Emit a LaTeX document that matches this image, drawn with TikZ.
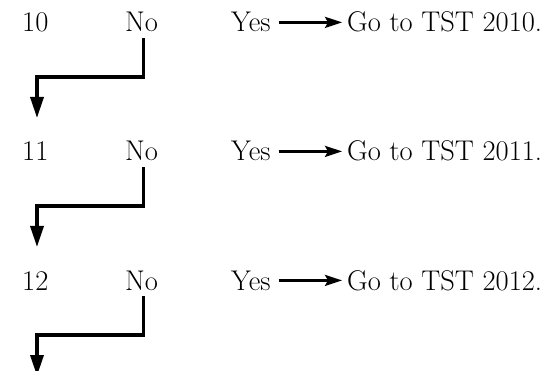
\documentclass[tikz,border=0pt]{standalone}
\usepackage{fontspec}
\usetikzlibrary{arrows.meta}

\begin{document}
\begin{tikzpicture}[x=1pt, y=-1pt,
                    lbl/.style={anchor=base west, inner sep=0pt, font=\fontsize{28.5}{32}\selectfont},
                    elbow/.style={line width=3.4pt, -{Triangle[length=21pt,width=13pt]}},
                    golink/.style={line width=2.6pt, -{Stealth[length=17pt,width=11pt,inset=3pt]}}]
                              \useasboundingbox (0,0) rectangle (559,371);
                              \foreach \n/\y in {10/32, 11/161, 12/290}{
                                    \node[lbl] (num\n) at (22,\y) {\n};
                                    \node[lbl] (no\n) at (125,\y) {No};
                                    \node[lbl] (yes\n) at (231,\y) {Yes};
                                    \node[lbl] (go\n) at (347,\y) {Go to TST 20\n.};
                                    \coordinate (turn\n) at (37,\y+45);
                                    \coordinate (drop\n) at (37,\y+86);
                                    \draw[elbow] ([xshift=2pt,yshift=-6pt]no\n.south) |- (turn\n) -- (drop\n);
                                    \draw[golink] ([xshift=8pt]yes\n.east) -- ([xshift=-5pt]yes\n.east -| go\n.west);
                              }
                              \end{tikzpicture}
\end{document}
